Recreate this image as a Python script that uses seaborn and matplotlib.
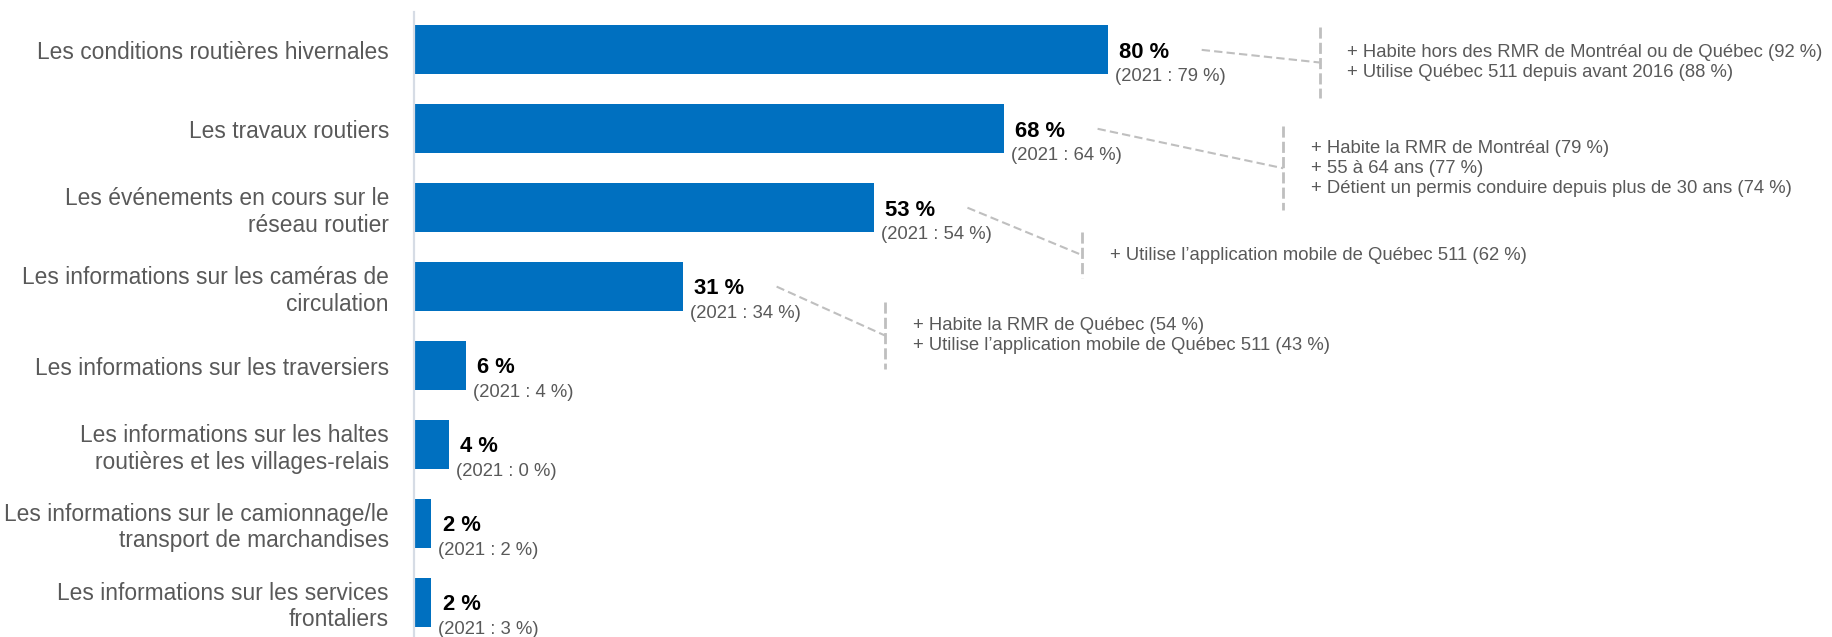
import matplotlib
matplotlib.use("Agg")
import matplotlib.pyplot as plt
import seaborn as sns
import pandas as pd

# ---------------- data ----------------
categories = [
    "Les conditions routières hivernales",
    "Les travaux routiers",
    "Les événements en cours sur le\nréseau routier",
    "Les informations sur les caméras de\ncirculation",
    "Les informations sur les traversiers",
    "Les informations sur les haltes\nroutières et les villages-relais",
    "Les informations sur le camionnage/le\ntransport de marchandises",
    "Les informations sur les services\nfrontaliers",
]
values_2023 = [80, 68, 53, 31, 6, 4, 2, 2]
values_2021 = [79, 64, 54, 34, 4, 0, 2, 3]
subgroup_notes = [
    ["+ Habite hors des RMR de Montréal ou de Québec (92 %)",
     "+ Utilise Québec 511 depuis avant 2016 (88 %)"],
    ["+ Habite la RMR de Montréal (79 %)",
     "+ 55 à 64 ans (77 %)",
     "+ Détient un permis conduire depuis plus de 30 ans (74 %)"],
    ["+ Utilise l’application mobile de Québec 511 (62 %)"],
    ["+ Habite la RMR de Québec (54 %)",
     "+ Utilise l’application mobile de Québec 511 (43 %)"],
]

# ---------------- layout (not data) ----------------
note_x = [104.4, 100.2, 77.0, 54.3]
note_y = [0.16, 1.50, 2.60, 3.62]
bracket_half = [0.445, 0.53, 0.29, 0.43]

BLUE = "#0070C0"
GRAY = "#595959"
DASH = "#BFBFBF"

sns.set_theme(style="white")
plt.rcParams["font.family"] = ["Liberation Sans", "DejaVu Sans"]

fig = plt.figure(figsize=(18.33, 6.37), dpi=100)
ax = fig.add_axes([414 / 1833, 0.0, 1 - 414 / 1833, 1 - 12 / 637])

df = pd.DataFrame({"cat": categories, "val": values_2023})
sns.barplot(data=df, x="val", y="cat", color=BLUE, saturation=1,
            width=0.62, ax=ax, edgecolor="none")

ax.set_xlim(0, (1833 - 414) / 8.675)
ax.set_ylim(7.44, -0.48)
ax.set_xlabel("")
ax.set_ylabel("")
ax.set_xticks([])
for s in ["top", "right", "bottom"]:
    ax.spines[s].set_visible(False)
ax.spines["left"].set_color("#D6DCE5")
ax.spines["left"].set_linewidth(1.6)
ax.tick_params(axis="y", length=0, pad=18)
ax.set_yticks(range(len(categories)))
ax.set_yticklabels(categories, fontsize=16.4, color=GRAY,
                   multialignment="right", linespacing=1.2)

for i, (v, v21) in enumerate(zip(values_2023, values_2021)):
    ax.text(v + 1.3, i + 0.03, f"{v} %", fontsize=15.8, fontweight="bold",
            color="black", ha="left", va="center")
    ax.text(v + 0.8, i + 0.34, f"(2021 : {v21} %)", fontsize=13.3,
            color=GRAY, ha="left", va="center")

for i, lines in enumerate(subgroup_notes):
    v = values_2023[i]
    x0 = v + 10.8
    ax.plot([x0, note_x[i]], [i, note_y[i]], color=DASH, lw=1.5,
            linestyle=(0, (4, 2)), clip_on=False)
    ax.plot([note_x[i], note_x[i]],
            [note_y[i] - bracket_half[i], note_y[i] + bracket_half[i]],
            color=DASH, lw=2, linestyle=(0, (4, 1.5)), clip_on=False)
    ax.text(note_x[i] + 3.2, note_y[i], "\n".join(lines), fontsize=13.3,
            color=GRAY, ha="left", va="center", linespacing=1.22)

fig.savefig("out.png", dpi=100)
